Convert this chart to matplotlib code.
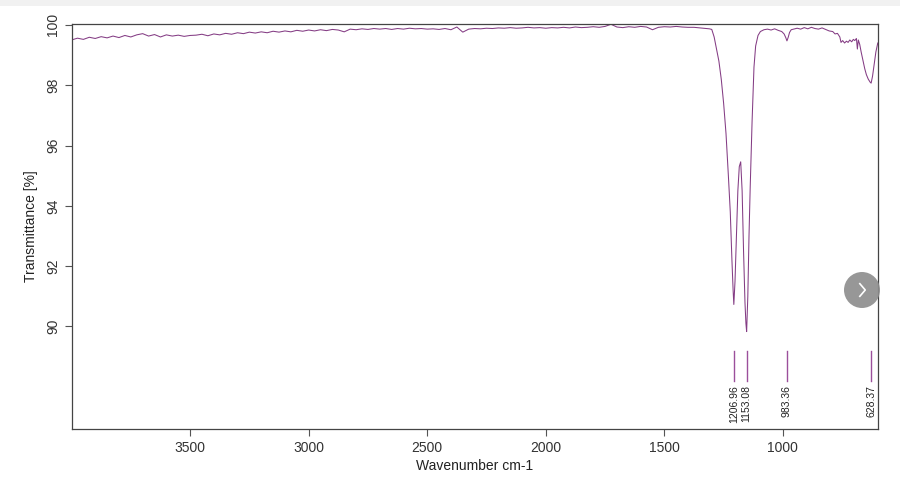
import numpy as np
import matplotlib
matplotlib.use("Agg")
import matplotlib.pyplot as plt
from matplotlib.patches import Circle, Rectangle

plt.rcParams['font.family'] = ['Liberation Sans', 'DejaVu Sans']

# ---- data ----
baseline_wn = np.arange(4000, 1375, -25)  # 4000 ... 1400
baseline_T = [
    99.50, 99.56, 99.52, 99.59, 99.55, 99.61, 99.57, 99.63, 99.58, 99.65, 99.60,
    99.67, 99.71, 99.63, 99.68, 99.60, 99.67, 99.63, 99.66, 99.62, 99.65,
    99.66, 99.69, 99.64, 99.70, 99.67, 99.72, 99.69, 99.74, 99.71, 99.76,
    99.73, 99.77, 99.74, 99.79, 99.76, 99.80, 99.77, 99.82, 99.79, 99.83,
    99.80, 99.84, 99.81, 99.85, 99.83, 99.77, 99.86, 99.84, 99.87, 99.85,
    99.88, 99.86, 99.88, 99.85, 99.88, 99.86, 99.89, 99.87, 99.88, 99.86,
    99.87, 99.85, 99.88, 99.84, 99.93, 99.76, 99.86, 99.88, 99.87, 99.89,
    99.88, 99.90, 99.89, 99.91, 99.89, 99.90, 99.92, 99.90, 99.91, 99.89,
    99.91, 99.90, 99.92, 99.90, 99.93, 99.91, 99.92, 99.94, 99.92, 99.95,
    100.02, 99.93, 99.91, 99.94, 99.92, 99.95, 99.93, 99.84, 99.92, 99.94,
    99.93, 99.95, 99.93, 99.92,
]

band_wn = [1375, 1350, 1325, 1310, 1300, 1290, 1280, 1270, 1260, 1250, 1240,
           1230, 1222, 1215, 1210, 1207, 1202, 1196, 1190, 1184, 1178, 1172,
           1166, 1160, 1156, 1153, 1148, 1143, 1138, 1130, 1122, 1115, 1105,
           1095, 1080, 1065, 1050, 1035, 1020, 1005, 995, 988, 983, 978, 972,
           965, 955, 940, 925, 910, 895, 880, 865, 850, 835, 820, 805, 790,
           780, 770, 760, 755, 748, 740, 732, 725, 718, 710, 703, 697, 690,
           686, 682, 676, 670, 662, 655, 648, 640, 632, 628, 622, 615, 608, 600]
band_T = [99.92, 99.90, 99.88, 99.87, 99.85, 99.60, 99.20, 98.80, 98.20, 97.40, 96.40,
          95.00, 93.80, 92.20, 91.20, 90.73, 91.50, 93.00, 94.50, 95.30, 95.46, 94.50,
          92.50, 90.80, 90.10, 89.83, 91.00, 93.00, 94.60, 96.80, 98.60, 99.30, 99.65,
          99.78, 99.84, 99.86, 99.83, 99.87, 99.82, 99.78, 99.70, 99.58, 99.47, 99.58, 99.75,
          99.84, 99.86, 99.89, 99.86, 99.91, 99.87, 99.92, 99.88, 99.86, 99.90, 99.85,
          99.80, 99.78, 99.70, 99.72, 99.60, 99.42, 99.48, 99.40, 99.46, 99.42, 99.50,
          99.44, 99.52, 99.48, 99.55, 99.20, 99.50, 99.35, 99.10, 98.80, 98.55, 98.35,
          98.20, 98.10, 98.07, 98.30, 98.70, 99.10, 99.40]

peak_wn = [1206.96, 1153.08, 983.36, 628.37]
peak_labels = ["1206.96", "1153.08", "983.36", "628.37"]

x_ticks = [3500, 3000, 2500, 2000, 1500, 1000]
y_ticks = [90, 92, 94, 96, 98, 100]

# ---- figure ----
fig = plt.figure(figsize=(9, 4.87), dpi=100)
fig.patches.append(Rectangle((0, 1 - 6 / 487), 1, 6 / 487, transform=fig.transFigure,
                             facecolor='#f1f1f1', edgecolor='none', zorder=0))
ax = fig.add_axes([72 / 900, 58 / 487, 806 / 900, 405 / 487])

wn = np.concatenate([baseline_wn, band_wn])
T = np.concatenate([baseline_T, band_T])
ax.plot(wn, T, color='#843c84', lw=0.75)

for w, lab in zip(peak_wn, peak_labels):
    ax.plot([w, w], [88.18, 89.17], color='#9b4f9b', lw=1.0)
    ax.text(w, 88.05, lab, rotation=90, ha='center', va='top', fontsize=7.5,
            color='#222222')

ax.set_xlim(3998, 599)
ax.set_ylim(86.6, 100.03)
ax.set_xticks(x_ticks)
ax.set_xticklabels([str(t) for t in x_ticks], fontsize=10, color='#333333')
ax.set_yticks(y_ticks)
ax.set_yticklabels([str(t) for t in y_ticks], fontsize=10, rotation=90,
                   va='center', color='#333333')
ax.tick_params(direction='out', length=5, color='#555555', width=0.8)
for s in ax.spines.values():
    s.set_color('#444444')
    s.set_linewidth(0.9)

ax.set_xlabel('Wavenumber cm-1', fontsize=10, color='#222222', labelpad=3)
ax.set_ylabel('Transmittance [%]', fontsize=10, color='#222222', labelpad=6)

# overlay navigation button seen in the reference
btn_ax = fig.add_axes([844 / 900, (487 - 308) / 487, 36 / 900, 36 / 487])
btn_ax.set_xlim(-1, 1)
btn_ax.set_ylim(-1, 1)
btn_ax.set_aspect('equal')
btn_ax.axis('off')
btn_ax.add_patch(Circle((0, 0), 1.0, facecolor='#8c8c8c', edgecolor='none', alpha=0.9))
btn_ax.plot([-0.12, 0.18, -0.12], [0.35, 0.0, -0.35], color='white', lw=1.2)

fig.savefig('out.png', dpi=100)
